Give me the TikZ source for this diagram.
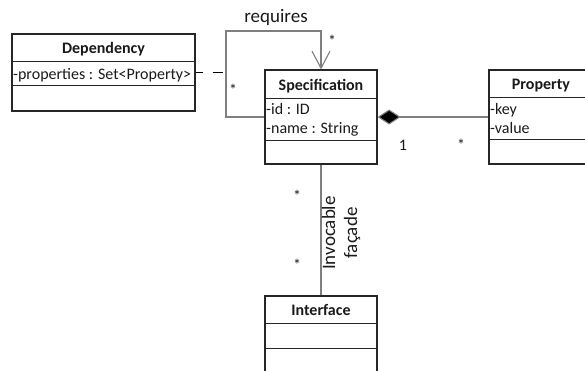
\documentclass[tikz,border=0pt]{standalone}
\usepackage{fontspec}
\setmainfont{Carlito}
\usetikzlibrary{arrows.meta,calc}
\definecolor{boxc}{HTML}{262626}
\definecolor{connc}{HTML}{7F7F7F}
\definecolor{textc}{HTML}{1A1A1A}
\begin{document}
\begin{tikzpicture}[x=1pt,y=-1pt,
  umlbox/.style={draw=boxc, line width=1.3pt, inner sep=0pt, fill=white},
  compline/.style={draw=boxc, line width=1.3pt},
  conn/.style={draw=connc, line width=1.1pt},
  txt/.style={font=\fontsize{16}{19}\selectfont, inner sep=0pt, text=textc},
  hdr/.style={font=\fontsize{16}{19}\selectfont\bfseries, inner sep=0pt, text=textc, anchor=base},
  lbl/.style={font=\fontsize{19}{22}\selectfont, inner sep=0pt, text=textc},
  mult/.style={font=\fontsize{16}{19}\selectfont, inner sep=0pt, text=textc, anchor=base}]
\useasboundingbox (0,0) rectangle (585,370);
\clip (0,0) rectangle (585,370);

% boxes
\node[umlbox, minimum width=183pt, minimum height=77pt] (dep) at (103.5,72.5) {};
\node[umlbox, minimum width=112pt, minimum height=94pt] (spec) at (321,117) {};
\node[umlbox, minimum width=104pt, minimum height=94pt] (prop) at (541,117) {};
\node[umlbox, minimum width=112pt, minimum height=80pt] (iface) at (321,336) {};

% compartments
\draw[compline] ($(dep.north west)+(0,28)$) -- ($(dep.north east)+(0,28)$);
\draw[compline] ($(dep.north west)+(0,52)$) -- ($(dep.north east)+(0,52)$);
\draw[compline] ($(spec.north west)+(0,29)$) -- ($(spec.north east)+(0,29)$);
\draw[compline] ($(spec.north west)+(0,71)$) -- ($(spec.north east)+(0,71)$);
\draw[compline] ($(prop.north west)+(0,28)$) -- ($(prop.north east)+(0,28)$);
\draw[compline] ($(prop.north west)+(0,70)$) -- ($(prop.north east)+(0,70)$);
\draw[compline] ($(iface.north west)+(0,28)$) -- ($(iface.north east)+(0,28)$);
\draw[compline] ($(iface.north west)+(0,53)$) -- ($(iface.north east)+(0,53)$);

% texts
\node[hdr] (depH) at (103.5,53) {Dependency};
\node[txt, anchor=base west] (depA) at (13,79) {-properties : Set<Property>};
\node[hdr] (specH) at (321,90) {Specification};
\node[txt, anchor=base west] (specA1) at (266,114) {-id : ID};
\node[txt, anchor=base west] (specA2) at (266,133) {-name : String};
\node[hdr] (propH) at (541,89.5) {Property};
\node[txt, anchor=base west] (propA1) at (490,114) {-key};
\node[txt, anchor=base west] (propA2) at (490,133) {-value};
\node[hdr] (ifaceH) at (321,315.5) {Interface};

% self association "requires"
\coordinate (r1) at (226,117);
\coordinate (r2) at (226,31);
\coordinate (r3) at (321,31);
\draw[conn, -{Straight Barb[length=17pt,width=18pt]}] (spec.west) -- (r1) -- (r2) -- (r3) -- (spec.north);
\node[lbl] (req) at (276,17) {requires};
\node[mult] (m1) at (332,46) {*};
\node[mult] (m2) at (233,95) {*};

% dependency dashed line
\coordinate (dj) at (226,72.5);
\draw[draw=black, line width=1.1pt, dash pattern=on 10pt off 10pt, dash phase=3pt] (dep.east) -- (dj);

% composition
\draw[conn, {Diamond[length=23pt,width=15pt,fill=black]}-] (spec.east) -- (prop.west);
\node[mult] (m3) at (403,150) {1};
\node[mult] (m4) at (461,150) {*};

% invocable facade
\draw[conn] (spec.south) -- (iface.north);
\node[mult] (m5) at (297,201) {*};
\node[mult] (m6) at (297,270) {*};
\node[lbl, rotate=90, align=center] (inv) at (341,233) {Invocable\\façade};
\end{tikzpicture}
\end{document}
